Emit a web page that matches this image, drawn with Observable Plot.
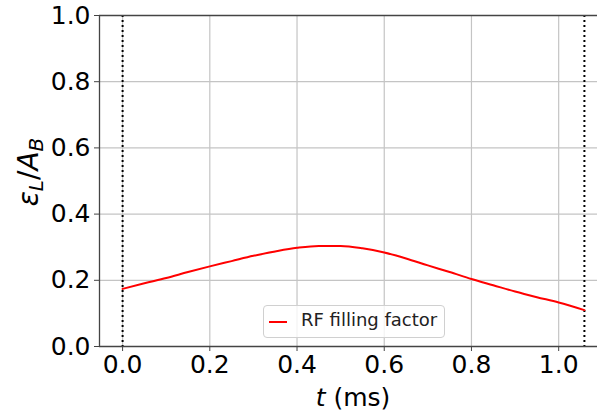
<!DOCTYPE html>
<html><head><meta charset="utf-8">
<script src="https://cdn.jsdelivr.net/npm/d3@7"></script>
<script src="https://cdn.jsdelivr.net/npm/@observablehq/plot@0.6"></script>
<style>
body{margin:0;background:#fff}
#wrap{position:relative;width:597px;height:416px;overflow:hidden}
#legend{position:absolute;left:263px;top:305px;width:180px;height:31px;border:1px solid #d0d0d0;border-radius:4px;background:rgba(255,255,255,0.8);font-family:"DejaVu Sans";font-size:18px;color:#222}
#legend .sw{position:absolute;left:5px;top:15px;width:18px;height:0;border-top:2px solid red}
#legend .lb{position:absolute;left:37px;top:3px;white-space:nowrap}
</style>
</head><body><div id="wrap"></div>
<script>
const times = [0, 0.05, 0.1, 0.15, 0.2, 0.25, 0.3, 0.35, 0.4, 0.45, 0.5, 0.55, 0.6, 0.65, 0.7, 0.75, 0.8, 0.85, 0.9, 0.95, 1.0, 1.059];
const fillingFactor = [0.174, 0.191, 0.207, 0.225, 0.242, 0.258, 0.274, 0.287, 0.298, 0.304, 0.304, 0.297, 0.284, 0.266, 0.245, 0.225, 0.204, 0.185, 0.166, 0.149, 0.133, 0.110];
const xTicks = [0, 0.2, 0.4, 0.6, 0.8, 1.0];
const yTicks = [0, 0.2, 0.4, 0.6, 0.8, 1.0];
const seriesLabel = "RF filling factor";

const data = times.map((t, i) => ({t, v: fillingFactor[i]}));
const tMin = d3.min(times), tMax = d3.max(times);
const pad = (tMax - tMin) * 0.05;
const fmt = d3.format(".1f");

const chart = Plot.plot({
  width: 597, height: 416,
  marginLeft: 99, marginRight: -10, marginTop: 15, marginBottom: 70,
  style: {fontFamily: "DejaVu Sans", background: "#fff", color: "#000", overflow: "hidden"},
  x: {domain: [tMin - pad, tMax + pad]},
  y: {domain: [0, 1]},
  marks: [
    Plot.gridX(xTicks, {stroke: "#c4c4c4", strokeOpacity: 1, strokeWidth: 1.2}),
    Plot.gridY(yTicks, {stroke: "#c4c4c4", strokeOpacity: 1, strokeWidth: 1.2}),
    Plot.ruleX([tMin, tMax], {stroke: "#000", strokeWidth: 2, strokeDasharray: "2,3"}),
    Plot.line(data, {x: "t", y: "v", stroke: "red", strokeWidth: 2, curve: "monotone-x"}),
    Plot.ruleY([1], {stroke: "#444", strokeWidth: 1.3}),
    Plot.ruleY([0], {stroke: "#444", strokeWidth: 1.3}),
    Plot.ruleX([tMin - pad], {stroke: "#444", strokeWidth: 1.3}),
    Plot.axisX(xTicks, {tickFormat: fmt, fontSize: 25, tickSize: 5, tickPadding: 4, stroke: "#444", label: null}),
    Plot.axisY(yTicks, {tickFormat: fmt, fontSize: 25, tickSize: 5, tickPadding: 4, stroke: "#444", label: null})
  ]
});
document.getElementById("wrap").appendChild(chart);

const svg = d3.select(chart);
const xl = svg.append("text").attr("x", 353).attr("y", 406).attr("text-anchor", "middle")
  .attr("font-family", "DejaVu Sans").attr("font-size", 25).attr("fill", "#000");
xl.append("tspan").attr("font-style", "italic").text("t");
xl.append("tspan").text(" (ms)");

const yl = svg.append("text").attr("transform", "translate(38,172) rotate(-90)").attr("text-anchor", "middle")
  .attr("font-family", "DejaVu Sans").attr("font-size", 28).attr("fill", "#000");
yl.append("tspan").attr("font-style", "italic").text("ε");
yl.append("tspan").attr("font-style", "italic").attr("font-size", 20).attr("dy", 5).text("L");
yl.append("tspan").attr("dy", -5).text("/");
yl.append("tspan").attr("font-style", "italic").text("A");
yl.append("tspan").attr("font-style", "italic").attr("font-size", 20).attr("dy", 5).text("B");

const lg = document.createElement("div");
lg.id = "legend";
lg.innerHTML = '<div class="sw"></div><div class="lb"></div>';
lg.querySelector(".lb").textContent = seriesLabel;
document.getElementById("wrap").appendChild(lg);
</script>
</body></html>
